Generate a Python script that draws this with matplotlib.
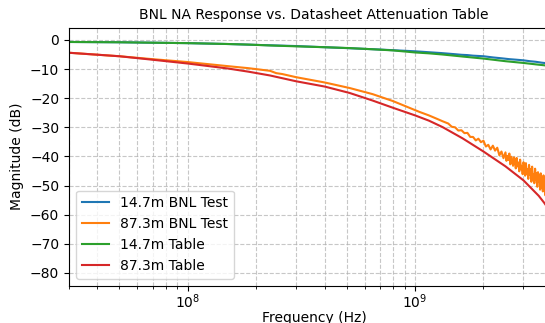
"""
BNL network-analyser response vs. datasheet attenuation table.
"""
import matplotlib
matplotlib.use("Agg")
import matplotlib.pyplot as plt

# ── Data ──────────────────────────────────────────────────────────────────
# frequencies in MHz
f_short_test = [30, 50, 70, 100, 150, 200, 300, 400, 500, 700, 1000, 1300,
                1500, 1600, 1700, 1800, 1900, 2000, 2200, 2400, 2600, 2800,
                3000, 3200, 3400, 3600, 3800, 4000, 4300]
db_short_test = [-0.7, -0.8, -0.95, -1.1, -1.4, -1.7, -2.1, -2.5, -2.8, -3.3,
                 -3.9, -4.5, -4.9, -5.1, -5.2, -5.4, -5.5, -5.6, -6.0, -6.3,
                 -6.6, -6.8, -7.0, -7.3, -7.5, -7.8, -8.0, -8.4, -8.8]

f_long_test = [30, 50, 70, 100, 150, 185, 230, 245, 260, 300, 400, 515, 650,
               800, 1045, 1150, 1250, 1320,
               1400, 1450, 1500, 1550, 1600, 1650, 1700, 1750, 1800, 1850,
               1900, 1950, 2000, 2050, 2100, 2150, 2200, 2250, 2300, 2350,
               2400, 2450,
               2500, 2525, 2550, 2575, 2600, 2625, 2650, 2675, 2700, 2725,
               2750, 2775, 2800, 2825, 2850, 2875, 2900, 2925, 2950, 2975,
               3000, 3025, 3050, 3075, 3100, 3125, 3150, 3175, 3200, 3225,
               3250, 3275, 3300, 3325, 3350, 3375, 3400, 3425, 3450, 3475,
               3500, 3525, 3550, 3575, 3600, 3625, 3650, 3675, 3700, 3725,
               3750, 3775, 3800]
db_long_test = [-4.4, -5.6, -6.6, -7.6, -9.0, -9.7, -10.6, -11.4, -11.7, -12.8,
                -14.6, -16.5, -18.6, -21.0, -24.7, -25.9, -27.1, -27.9,
                -28.7, -29.8, -30.0, -31.1, -31.0, -32.0, -31.9, -33.3, -33.3,
                -34.5, -33.9, -35.1, -34.6, -36.6, -36.0, -37.6, -36.3, -38.0,
                -37.0, -39.6, -38.3, -40.6,
                -38.6, -41.5, -39.8, -41.2, -39.0, -42.7, -40.1, -41.6, -43.2,
                -40.3, -41.7, -44.1, -40.5, -43.4, -42.1, -45.1, -41.1, -44.4,
                -43.2, -46.1, -42.0, -43.3, -46.6, -42.3, -46.1, -44.4, -47.7,
                -42.9, -46.2, -44.4, -48.7, -43.5, -47.9, -46.1, -49.2, -44.2,
                -48.1, -45.8, -50.4, -45.4, -48.6, -46.3, -51.4, -45.8, -50.7,
                -48.4, -52.0, -46.5, -51.0, -48.4, -53.4, -48.0, -52.8]

f_table = [30, 50, 70, 100, 150, 185, 230, 300, 400, 515, 650, 800, 1000,
           1150, 1320, 1620, 2000, 2500, 3000, 3500, 3700, 4000, 4300]
db_short_table = [-0.7, -0.8, -0.95, -1.1, -1.4, -1.6, -1.9, -2.2, -2.5, -2.8,
                  -3.2, -3.6, -4.3, -4.6, -5.0, -5.7, -6.4, -7.3, -7.9, -8.5,
                  -8.7, -9.1, -9.5]
db_long_table = [-4.4, -5.6, -6.8, -8.1, -9.8, -10.9, -12.2, -14.2, -16.0,
                 -18.2, -20.8, -23.3, -25.9, -27.7, -29.9, -33.8, -38.3,
                 -43.4, -48.2, -53.5, -55.9, -59.7, -64.0]

labels = ["14.7m BNL Test", "87.3m BNL Test", "14.7m Table", "87.3m Table"]


def mhz(values):
    return [v * 1e6 for v in values]


fig = plt.figure(figsize=(5.45, 3.23), dpi=100)
# axes run off the right edge, as in the cropped original
ax = fig.add_axes([69 / 545, 37.5 / 323, 490 / 545, 257.8 / 323])

ax.plot(mhz(f_short_test), db_short_test, color="C0", label=labels[0])
ax.plot(mhz(f_long_test), db_long_test, color="C1", label=labels[1])
ax.plot(mhz(f_table), db_short_table, color="C2", label=labels[2])
ax.plot(mhz(f_table), db_long_table, color="C3", label=labels[3])

ax.set_xscale("log")
ax.set_xlim(3e7, 4.3e9)
ax.set_ylim(-84.3, 4.2)
ax.tick_params(axis="x", which="major", pad=1.5)
ax.set_xlabel("Frequency (Hz)", labelpad=0)
ax.set_ylabel("Magnitude (dB)")
ax.set_title("BNL NA Response vs. Datasheet Attenuation Table", fontsize=10)
ax.grid(True, which="both", linestyle="--", alpha=0.7)
ax.legend(loc="lower left")

fig.savefig("out.png", dpi=100)
